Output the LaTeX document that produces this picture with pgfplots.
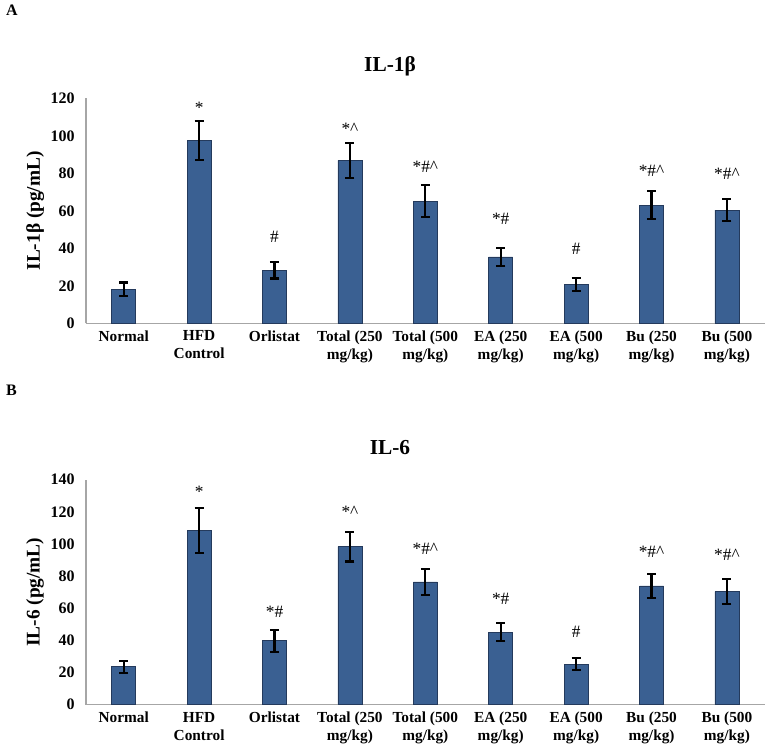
\documentclass[border=0pt]{standalone}
\usepackage{fontspec}
\setmainfont{Liberation Serif}
\usepackage{pgfplots}
\pgfplotsset{compat=1.18}
\definecolor{barblue}{RGB}{58,96,146}
\definecolor{baredge}{RGB}{36,58,92}
\newcommand{\crt}{\textasciicircum}

\pgfplotsset{cyto/.style={
    scale only axis, width=509pt, height=168.75pt,
    xmin=-0.5, xmax=8.5, ymin=0,
    axis x line*=bottom, axis y line*=left,
    axis line style={draw=gray!70, line width=0.8pt, -},
    tick style={draw=none},
    xtick={0,...,8},
    xticklabels={Normal, HFD\\Control, Orlistat, Total (250\\mg/kg), Total (500\\mg/kg),
        EA (250\\mg/kg), EA (500\\mg/kg), Bu (250\\mg/kg), Bu (500\\mg/kg)},
    xticklabel style={align=center, font=\fontsize{11.5}{13.5}\selectfont\bfseries, yshift=-2pt},
    yticklabel style={font=\fontsize{12}{13}\selectfont\bfseries, xshift=-5pt},
    /pgf/number format/assume math mode=true,
    ytick distance=20,
    ylabel style={at={(axis description cs:-0.075,0.5)}, anchor=center,
        font=\fontsize{14.5}{18}\selectfont\bfseries},
    clip=false,
}}
\pgfplotsset{barsty/.style={ybar, bar width=18pt, bar shift=0pt,
    fill=barblue, draw=baredge, line width=0.5pt,
    error bars/.cd, y dir=both, y explicit, error mark=-,
    error bar style={black, line width=1.6pt},
    error mark options={black, line width=1.6pt, mark size=3.4pt, rotate=90}}}
\pgfplotsset{sigsty/.style={draw=none, mark=none, nodes near coords,
    point meta=explicit symbolic,
    every node near coord/.append style={anchor=center, font=\fontsize{13}{15}\selectfont}}}

\begin{document}
\begin{tikzpicture}
\useasboundingbox (0,0) rectangle (573.75pt,-562.5pt);

% panel A
\node[anchor=west, font=\fontsize{12}{14}\selectfont\bfseries] at (1pt,-8pt) {A};
\node[font=\fontsize{16}{18}\selectfont\bfseries] at (292.5pt,-50pt) {IL-1β};
\begin{axis}[cyto, at={(64.5pt,-242.5pt)}, anchor=south west,
    ymax=120, ylabel={IL-1β (pg/mL)}]
\addplot[barsty] coordinates {
    (0,18.1) +- (0,3.7)
    (1,97.6) +- (0,10.5)
    (2,28.3) +- (0,4.4)
    (3,86.9) +- (0,9.3)
    (4,65.2) +- (0,8.4)
    (5,35.4) +- (0,4.6)
    (6,20.8) +- (0,3.4)
    (7,63.1) +- (0,7.5)
    (8,60.4) +- (0,5.9)
};
\addplot[sigsty] coordinates {
    (1,115.0) [*]
    (2,46.0) [\#]
    (3,103.6) [*\crt]
    (4,83.5) [*\#\crt]
    (5,56.0) [*\#]
    (6,39.6) [\#]
    (7,81.4) [*\#\crt]
    (8,80.0) [*\#\crt]
};
\end{axis}

% panel B
\node[anchor=west, font=\fontsize{12}{14}\selectfont\bfseries] at (1pt,-293pt) {B};
\node[font=\fontsize{16}{18}\selectfont\bfseries] at (292.5pt,-336pt) {IL-6};
\begin{axis}[cyto, at={(64.5pt,-528.5pt)}, anchor=south west,
    ymax=140, ylabel={IL-6 (pg/mL)}]
\addplot[barsty] coordinates {
    (0,23.6) +- (0,3.7)
    (1,108.3) +- (0,13.9)
    (2,39.8) +- (0,6.8)
    (3,98.4) +- (0,9.3)
    (4,76.4) +- (0,7.9)
    (5,45.2) +- (0,5.7)
    (6,25.3) +- (0,3.9)
    (7,73.9) +- (0,7.3)
    (8,70.4) +- (0,7.9)
};
\addplot[sigsty] coordinates {
    (1,132.7) [*]
    (2,57.8) [*\#]
    (3,120.3) [*\crt]
    (4,97.1) [*\#\crt]
    (5,65.7) [*\#]
    (6,45.3) [\#]
    (7,95.0) [*\#\crt]
    (8,93.4) [*\#\crt]
};
\end{axis}
\end{tikzpicture}
\end{document}
